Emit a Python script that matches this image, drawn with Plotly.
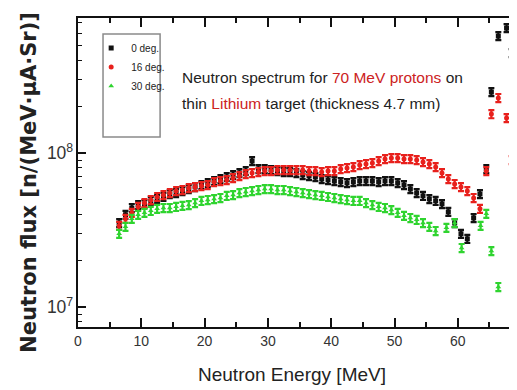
import plotly.graph_objects as go

# ---------------- data ----------------
x_0deg = [6.5, 7.5, 8.5, 9.5, 10.5, 11.5, 12.5, 13.5, 14.5, 15.5, 16.5, 17.5, 18.5, 19.5,
          20.5, 21.5, 22.5, 23.5, 24.5, 25.5, 26.5, 27.5, 28.5, 29.5, 30.5, 31.5, 32.5,
          33.5, 34.5, 35.5, 36.5, 37.5, 38.5, 39.5, 40.5, 41.5, 42.5, 43.5, 44.5, 45.5,
          46.5, 47.5, 48.5, 49.5, 50.5, 51.5, 52.5, 53.5, 54.5, 55.5, 56.5, 57.5, 58.5,
          59.5, 60.5, 61.5, 62.5, 63.5, 64.5, 65.3, 66.4, 67.7, 68.5, 69.2]
y_0deg = [3.51e7, 3.97e7, 4.40e7, 4.60e7, 4.67e7, 4.89e7, 5.03e7, 5.19e7, 5.42e7, 5.50e7,
          5.67e7, 5.84e7, 6.02e7, 6.20e7, 6.39e7, 6.58e7, 6.78e7, 6.99e7, 7.20e7, 7.42e7,
          7.64e7, 8.87e7, 7.88e7, 7.88e7, 7.76e7, 7.64e7, 7.53e7, 7.53e7, 7.42e7, 7.20e7,
          7.09e7, 6.99e7, 6.78e7, 6.68e7, 6.58e7, 6.49e7, 6.39e7, 6.49e7, 6.58e7, 6.58e7,
          6.58e7, 6.49e7, 6.58e7, 6.58e7, 6.39e7, 6.20e7, 5.84e7, 5.50e7, 5.27e7, 5.03e7,
          4.89e7, 4.67e7, 4.15e7, 3.51e7, 2.99e7, 2.77e7, 3.79e7, 5.42e7, 7.88e7, 2.49e8,
          5.75e8, 6.48e8, 4.46e8, 2.28e8]

x_16deg = [6.5, 7.5, 8.5, 9.5, 10.5, 11.5, 12.5, 13.5, 14.5, 15.5, 16.5, 17.5, 18.5, 19.5,
           20.5, 21.5, 22.5, 23.5, 24.5, 25.5, 26.5, 27.5, 28.5, 29.5, 30.5, 31.5, 32.5,
           33.5, 34.5, 35.5, 36.5, 37.5, 38.5, 39.5, 40.5, 41.5, 42.5, 43.5, 44.5, 45.5,
           46.5, 47.5, 48.5, 49.5, 50.5, 51.5, 52.5, 53.5, 54.5, 55.5, 56.5, 57.5, 58.5,
           59.5, 60.5, 61.5, 62.5, 63.5, 64.5, 65.3, 66.4, 67.7, 68.5, 69.2]
y_16deg = [3.37e7, 3.74e7, 4.09e7, 4.47e7, 4.74e7, 4.96e7, 5.19e7, 5.34e7, 5.50e7, 5.67e7,
           5.76e7, 5.93e7, 6.02e7, 6.11e7, 6.20e7, 6.49e7, 6.58e7, 6.68e7, 6.89e7, 7.09e7,
           7.31e7, 7.42e7, 7.53e7, 7.64e7, 7.64e7, 7.76e7, 7.76e7, 7.76e7, 7.76e7, 7.76e7,
           7.64e7, 7.64e7, 7.53e7, 7.64e7, 7.64e7, 7.88e7, 8.00e7, 8.12e7, 8.36e7, 8.49e7,
           8.61e7, 8.87e7, 9.14e7, 9.28e7, 9.28e7, 9.14e7, 9.14e7, 9.01e7, 8.74e7, 8.49e7,
           8.12e7, 7.42e7, 6.78e7, 6.30e7, 6.02e7, 5.67e7, 5.11e7, 4.34e7, 7.64e7, 1.79e8,
           2.28e8, 1.69e8, 9.00e7, 2.42e7]

x_30deg = [6.5, 7.5, 8.5, 9.5, 10.5, 11.5, 12.5, 13.5, 14.5, 15.5, 16.5, 17.5, 18.5, 19.5,
           20.5, 21.5, 22.5, 23.5, 24.5, 25.5, 26.5, 27.5, 28.5, 29.5, 30.5, 31.5, 32.5,
           33.5, 34.5, 35.5, 36.5, 37.5, 38.5, 39.5, 40.5, 41.5, 42.5, 43.5, 44.5, 45.5,
           46.5, 47.5, 48.5, 49.5, 50.5, 51.5, 52.5, 53.5, 54.5, 55.5, 56.5, 58.2, 59.5,
           60.6, 63.6, 64.5, 65.3, 66.4]
y_30deg = [2.99e7, 3.32e7, 3.74e7, 3.97e7, 4.09e7, 4.21e7, 4.34e7, 4.40e7, 4.40e7, 4.47e7,
           4.54e7, 4.60e7, 4.74e7, 4.89e7, 4.96e7, 5.03e7, 5.11e7, 5.27e7, 5.34e7, 5.50e7,
           5.59e7, 5.67e7, 5.76e7, 5.84e7, 5.84e7, 5.76e7, 5.76e7, 5.67e7, 5.59e7, 5.50e7,
           5.42e7, 5.34e7, 5.27e7, 5.19e7, 5.11e7, 5.03e7, 4.96e7, 4.89e7, 4.89e7, 4.74e7,
           4.60e7, 4.47e7, 4.40e7, 4.27e7, 4.09e7, 3.91e7, 3.79e7, 3.68e7, 3.51e7, 3.32e7,
           3.12e7, 3.27e7, 3.51e7, 2.42e7, 3.37e7, 4.03e7, 2.31e7, 1.35e7]

series_names = ["0 deg.", "16 deg.", "30 deg."]
rel_error_pct = 6

# ---------------- figure ----------------
SANS = "Liberation Sans, Arial, sans-serif"
BLACK = "#111111"
RED = "#e8201c"
GREEN = "#2fd42f"

fig = go.Figure()
specs = [
    (x_0deg, y_0deg, series_names[0], BLACK, "square"),
    (x_16deg, y_16deg, series_names[1], RED, "circle"),
    (x_30deg, y_30deg, series_names[2], GREEN, "triangle-up"),
]
for xs, ys, name, col, sym in specs:
    fig.add_trace(go.Scatter(
        x=xs, y=ys, name=name, mode="markers",
        marker=dict(symbol=sym, size=5, color=col, line=dict(width=0)),
        error_y=dict(type="percent", value=rel_error_pct, color=col,
                     thickness=2.2, width=3),
    ))

# page body has an 8px default margin, so the figure is 8px smaller and shifted
fig.update_layout(
    width=509, height=382,
    margin=dict(l=70, r=0, t=10, b=63),
    paper_bgcolor="white", plot_bgcolor="white",
    showlegend=True,
    legend=dict(x=0.03, y=0.95, xanchor="left", yanchor="top",
                bgcolor="rgba(0,0,0,0)", borderwidth=0,
                font=dict(family=SANS, size=10, color="#222"),
                itemwidth=30, tracegroupgap=0),
    font=dict(family=SANS, color="#222"),
)

fig.update_xaxes(
    range=[0, 69.35], showgrid=False, zeroline=False,
    showline=True, linecolor="#111", linewidth=2, mirror="ticks",
    ticks="inside", ticklen=9, tickwidth=1.5, tickcolor="#111",
    dtick=10, tick0=0,
    minor=dict(ticks="inside", dtick=5, ticklen=5, tickwidth=1.5, tickcolor="#111"),
    tickfont=dict(family=SANS, size=14, color="#333"),
)
fig.update_yaxes(
    type="log", range=[6.870, 8.877], showgrid=False, zeroline=False,
    showline=True, linecolor="#111", linewidth=2, mirror=False,
    ticks="inside", ticklen=8, tickwidth=1.5, tickcolor="#111",
    dtick=1, exponentformat="power",
    minor=dict(ticks="inside", dtick="D1", ticklen=4, tickwidth=1.2, tickcolor="#111"),
    tickfont=dict(family=SANS, size=14, color="#333"),
)

# legend frame
fig.add_shape(type="rect", xref="paper", yref="paper",
              x0=0.057, x1=0.187, y0=0.615, y1=0.948,
              line=dict(color="#8a8a8a", width=1.5), fillcolor="rgba(0,0,0,0)")

# in-plot caption
fig.add_annotation(
    xref="paper", yref="paper", x=0.2323, y=0.806, xanchor="left", yanchor="middle",
    showarrow=False, font=dict(family=SANS, size=15.5, color="#222"),
    text="Neutron spectrum for <span style='color:#cc2222'>70 MeV protons</span> on",
)
fig.add_annotation(
    xref="paper", yref="paper", x=0.2323, y=0.722, xanchor="left", yanchor="middle",
    showarrow=False, font=dict(family=SANS, size=15.5, color="#222"),
    text="thin <span style='color:#cc2222'>Lithium</span> target (thickness 4.7 mm)",
)

# axis titles
fig.add_annotation(
    xref="paper", yref="paper", x=0.4875, y=-0.155, xanchor="center", yanchor="middle",
    showarrow=False, font=dict(family=SANS, size=19, color="#222"),
    text="Neutron Energy [MeV]",
)
fig.add_annotation(
    xref="paper", yref="paper", x=-0.112, y=0.469, xanchor="center", yanchor="middle",
    showarrow=False, textangle=-90,
    font=dict(family="DejaVu Sans, Verdana, sans-serif", size=21, color="#222", weight="bold"),
    text="Neutron flux [n/(MeV·µA·Sr)]",
)

fig.write_html("out.html")
